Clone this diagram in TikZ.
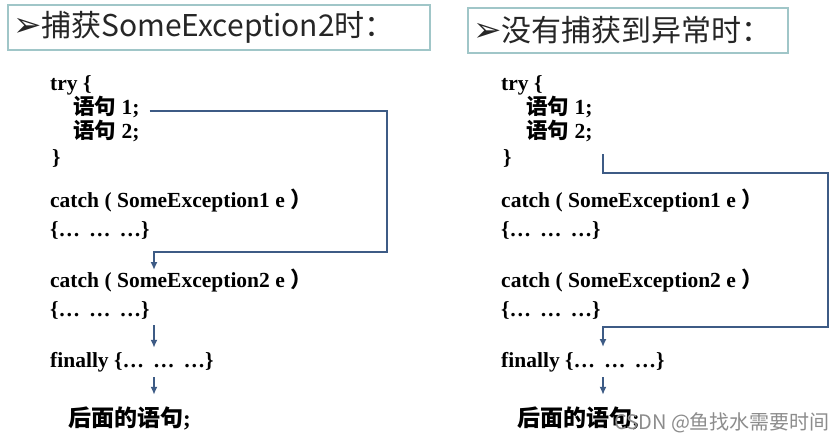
\documentclass[tikz,border=0pt]{standalone}
\usepackage{fontspec}
\setmainfont{Liberation Serif}
\newfontfamily\cjk{Noto Sans CJK SC}
\newfontfamily\sym{DejaVu Sans}
\usetikzlibrary{arrows.meta}
\definecolor{flowblue}{RGB}{61,91,133}
\definecolor{boxline}{RGB}{160,198,200}
\newcommand{\zh}[1]{{\cjk\bfseries #1}}
\newcommand{\dotsbody}{\{… \,… \,…\}}
\tikzset{code/.style={anchor=west,inner sep=0pt,font=\fontsize{21.5}{23}\selectfont\bfseries,
                      text height=12pt,text depth=6pt},
         head/.style={draw=boxline,line width=1.3pt,minimum height=45pt,inner xsep=5pt,
                      font=\fontsize{30}{32}\cjk,text=black!85,align=left},
         jump/.style={draw=flowblue,line width=1.6pt,-{Latex[length=8pt,width=7pt]}},
         flow/.style={draw=flowblue,line width=1.6pt,-{Latex[length=8pt,width=7pt]}},
        }

\begin{document}
\begin{tikzpicture}[x=1pt,y=-1pt]
        \useasboundingbox (0,0) rectangle (840,445);

        \node[head,text width=412pt](hl)at(219,27.5){{\sym\fontsize{34}{34}\selectfont ➢}捕获SomeException2时：};
        \node[head,text width=310pt](hr)at(628,30.5){{\sym\fontsize{34}{34}\selectfont ➢}没有捕获到异常时：};

        \node[code](tryl)at(50,87){try \{};
        \node[code](s1l)at(73,111){\zh{语句} 1;};
        \node[code](s2l)at(73,135){\zh{语句} 2;};
        \node[code](endl)at(52,161){\}};
        \node[code](c1l)at(50,204){catch ( SomeException1 e \zh{）}};
        \node[code](b1l)at(50,233){\dotsbody};
        \node[code](c2l)at(50,284){catch ( SomeException2 e \zh{）}};
        \node[code](b2l)at(50,313){\dotsbody};
        \node[code](fil)at(50,364){finally \dotsbody};
        \node[code,font=\fontsize{23}{25}\selectfont\bfseries](afl)at(68,423){\zh{后面的语句};};

        \coordinate(lbend)at(387,252);
        \coordinate(lin)at(154,270);
        \draw[jump]([xshift=10pt]s1l.east)-|(lbend)-|(lin);
        \draw[flow,shorten <=3pt,shorten >=7pt](b2l.south-|lin)--(fil.north-|lin);
        \draw[flow,shorten <=4pt,shorten >=19pt](fil.south-|lin)--(afl.north-|lin);

        \node[code](tryr)at(501,87){try \{};
        \node[code](s1r)at(526,111){\zh{语句} 1;};
        \node[code](s2r)at(526,135){\zh{语句} 2;};
        \node[code](endr)at(503,161){\}};
        \node[code](c1r)at(501,204){catch ( SomeException1 e \zh{）}};
        \node[code](b1r)at(501,233){\dotsbody};
        \node[code](c2r)at(501,284){catch ( SomeException2 e \zh{）}};
        \node[code](b2r)at(501,313){\dotsbody};
        \node[code](fir)at(501,364){finally \dotsbody};
        \node[code,font=\fontsize{23}{25}\selectfont\bfseries](afr)at(517,423){\zh{后面的语句};};

        \coordinate(rtop)at(603,154);
        \coordinate(rbend)at(828,173);
        \coordinate(rback)at(828,327);
        \coordinate(rin)at(603,347);
        \draw[jump](rtop)|-(rbend)--(rback)-|(rin);
        \draw[flow,shorten <=4pt,shorten >=19pt](fir.south-|rin)--(afr.north-|rin);

        \node[anchor=west,inner sep=0pt,text=black!45,font=\fontsize{20}{22}\cjk](mark)at(614,423){CSDN @鱼找水需要时间};
    \end{tikzpicture}
\end{document}
